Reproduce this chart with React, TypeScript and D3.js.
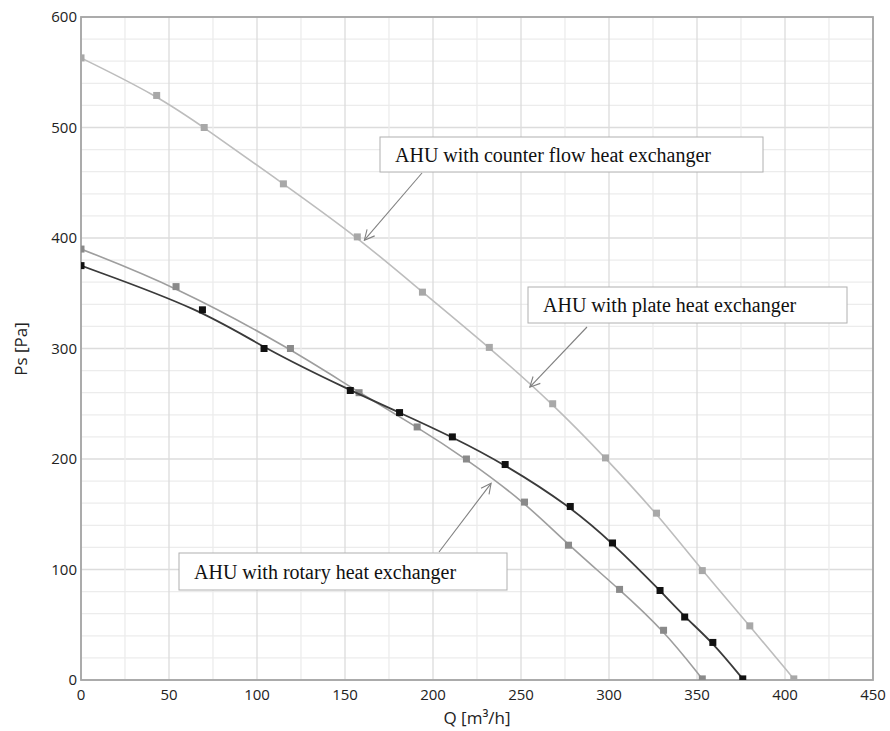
import React from "react";
import * as d3 from "d3";

const counterFlowQ = [0, 43, 70, 115, 157, 194, 232, 268, 298, 327, 353, 380, 405];
const counterFlowPs = [563, 529, 500, 449, 401, 351, 301, 250, 201, 151, 99, 49, 1];

const plateQ = [0, 54, 119, 158, 191, 219, 252, 277, 306, 331, 353];
const platePs = [390, 356, 300, 260, 229, 200, 161, 122, 82, 45, 1];

const rotaryQ = [0, 69, 104, 153, 181, 211, 241, 278, 302, 329, 343, 359, 376];
const rotaryPs = [375, 335, 300, 262, 242, 220, 195, 157, 124, 81, 57, 34, 1];

const xTicks = [0, 50, 100, 150, 200, 250, 300, 350, 400, 450];
const yTicks = [0, 100, 200, 300, 400, 500, 600];

const series = [
  { name: "counter", q: counterFlowQ, ps: counterFlowPs, line: "#bdbdbd", marker: "#a8a8a8", width: 1.6 },
  { name: "plate", q: plateQ, ps: platePs, line: "#9e9e9e", marker: "#8a8a8a", width: 1.6 },
  { name: "rotary", q: rotaryQ, ps: rotaryPs, line: "#3a3a3a", marker: "#111111", width: 1.8 },
];

// annotation boxes: text, box (px), arrow start -> tip (data coords)
const notes = [
  { text: "AHU with counter flow heat exchanger", box: [380, 137, 383, 35], from: [422, 173], toQ: 161, toPs: 398 },
  { text: "AHU with plate heat exchanger", box: [528, 287, 319, 36], from: [587, 327], toQ: 255, toPs: 265 },
  { text: "AHU with rotary heat exchanger", box: [179, 553, 328, 37], from: [439, 552], toQ: 233, toPs: 178 },
];

const W = 890;
const H = 731;
const left = 81;
const right = 873;
const top = 17;
const bottom = 680;

export default function App() {
  const x = d3.scaleLinear().domain([0, 450]).range([left, right]);
  const y = d3.scaleLinear().domain([0, 600]).range([bottom, top]);

  const minorX = d3.range(0, 451, 25);
  const minorY = d3.range(0, 601, 20);

  const line = d3
    .line<[number, number]>()
    .x((d) => x(d[0]))
    .y((d) => y(d[1]))
    .curve(d3.curveBasis);

  const sans = "'Open Sans', 'Noto Sans', sans-serif";

  return (
    <svg width={W} height={H} style={{ position: "absolute", left: 0, top: 0, background: "#fff" }}>
      <defs>
        <clipPath id="plot">
          <rect x={left} y={top} width={right - left} height={bottom - top} />
        </clipPath>
        <marker id="arrow" viewBox="0 0 12 12" refX="11" refY="6" markerWidth="12" markerHeight="12" markerUnits="userSpaceOnUse" orient="auto">
          <path d="M1,1 L11,6 L1,11" fill="none" stroke="#808080" strokeWidth="1.1" />
        </marker>
      </defs>

      {/* grid */}
      {minorY.map((v) => (
        <line key={"gy" + v} x1={left} x2={right} y1={y(v)} y2={y(v)} stroke={v % 100 === 0 ? "#dcdcdc" : "#ececec"} strokeWidth={1.3} />
      ))}
      {minorX.map((v) => (
        <line key={"gx" + v} x1={x(v)} x2={x(v)} y1={top} y2={bottom} stroke={v % 50 === 0 ? "#dcdcdc" : "#ececec"} strokeWidth={1.3} />
      ))}
      <rect x={left} y={top} width={right - left} height={bottom - top} fill="none" stroke="#a5a5a5" strokeWidth={1.8} />

      {/* series */}
      <g clipPath="url(#plot)">
        {series.map((s) => {
          const pts = s.q.map((q, i) => [q, s.ps[i]] as [number, number]);
          return (
            <g key={s.name}>
              <path d={line(pts) || ""} fill="none" stroke={s.line} strokeWidth={s.width} />
              {pts.map((p, i) => (
                <rect key={i} x={x(p[0]) - 3.5} y={y(p[1]) - 3.5} width={7} height={7} fill={s.marker} />
              ))}
            </g>
          );
        })}
      </g>

      {/* ticks */}
      {yTicks.map((v) => (
        <text key={"ty" + v} x={left - 4} y={y(v)} dy="0.35em" textAnchor="end" fontSize={15} fontFamily={sans} fill="#222">
          {v}
        </text>
      ))}
      {xTicks.map((v) => (
        <text key={"tx" + v} x={x(v)} y={bottom + 15} dy="0.35em" textAnchor="middle" fontSize={15} fontFamily={sans} fill="#222">
          {v}
        </text>
      ))}

      <text x={(left + right) / 2} y={718} dy="0.35em" textAnchor="middle" fontSize={17} fontFamily={sans} fill="#222">
        Q [m³/h]
      </text>
      <text transform={`translate(21,349) rotate(-90)`} dy="0.35em" textAnchor="middle" fontSize={17} fontFamily={sans} fill="#222">
        Ps [Pa]
      </text>

      {/* annotations */}
      {notes.map((n) => (
        <g key={n.text}>
          <line x1={n.from[0]} y1={n.from[1]} x2={x(n.toQ)} y2={y(n.toPs)} stroke="#808080" strokeWidth={1.1} markerEnd="url(#arrow)" />
          <rect x={n.box[0]} y={n.box[1]} width={n.box[2]} height={n.box[3]} fill="#fff" stroke="#b0b0b0" strokeWidth={1} />
          <text x={n.box[0] + 15} y={n.box[1] + n.box[3] / 2} dy="0.35em" fontSize={20} fontFamily="'Liberation Serif', 'Times New Roman', serif" fill="#111">
            {n.text}
          </text>
        </g>
      ))}
    </svg>
  );
}
